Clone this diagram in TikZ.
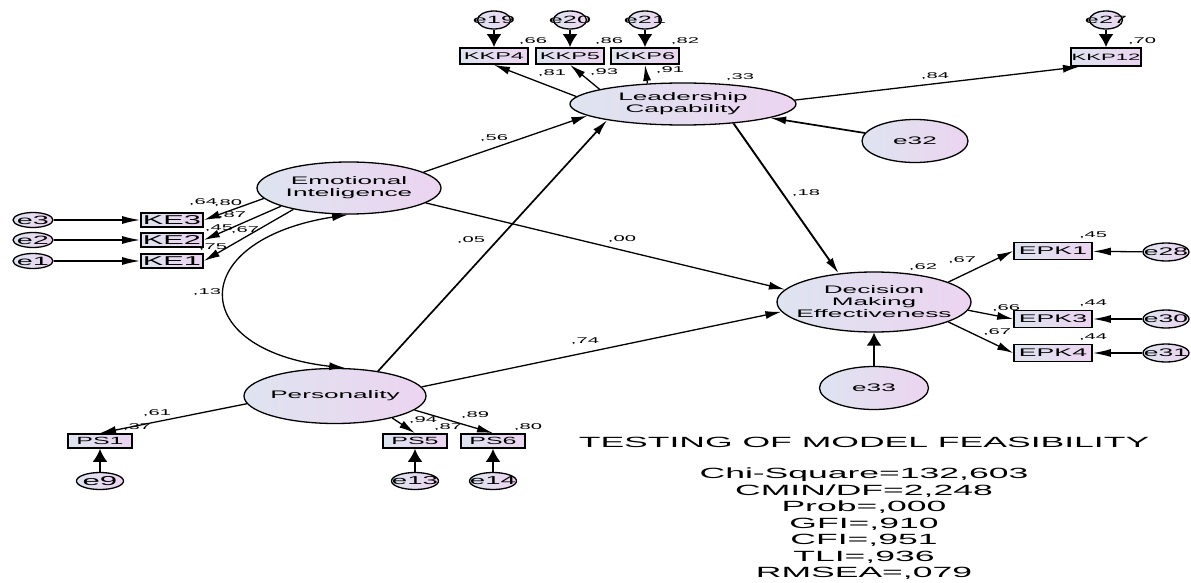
\documentclass[tikz,border=0pt]{standalone}
\usepackage{fontspec}
\setmainfont{Liberation Sans}[FakeStretch=2.4]
\usetikzlibrary{shapes.geometric,arrows.meta}
\definecolor{fillA}{RGB}{222,228,240}
\definecolor{fillB}{RGB}{236,212,240}

\begin{document}
\begin{tikzpicture}[x=1pt,y=-1pt,
        latent/.style={ellipse,draw,line width=1.3pt,left color=fillA,right color=fillB,inner xsep=-30pt,inner ysep=0pt,align=center,font=\fontsize{10.9}{12}\selectfont},
        errnode/.style={ellipse,draw,line width=1.3pt,left color=fillA,right color=fillB,inner xsep=-12pt,inner ysep=0pt},
        obs/.style={rectangle,draw,line width=1.7pt,left color=fillA,right color=fillB,inner sep=0pt},
        kkp/.style={obs,minimum width=68pt,minimum height=16pt,font=\fontsize{9.8}{10}\selectfont},
        kebox/.style={obs,minimum width=62pt,minimum height=14pt,font=\fontsize{12.8}{13}\selectfont},
        psbox/.style={obs,minimum width=64pt,minimum height=14pt,font=\fontsize{10.4}{11}\selectfont},
        epk/.style={obs,minimum width=78pt,minimum height=17pt,font=\fontsize{11.1}{12}\selectfont},
        etop/.style={errnode,minimum width=33pt,minimum height=18pt,font=\fontsize{10.5}{11}\selectfont},
        eleft/.style={errnode,minimum width=40pt,minimum height=15pt,font=\fontsize{12}{13}\selectfont},
        ebot/.style={errnode,minimum width=47pt,minimum height=17pt,font=\fontsize{11.5}{12}\selectfont},
        eright/.style={errnode,minimum width=46pt,minimum height=18pt,font=\fontsize{11}{12}\selectfont},
        coef/.style={inner sep=0pt,font=\fontsize{8.4}{9}\selectfont},
        reg/.style={line width=1.3pt,-{Latex[length=16pt,width=8pt]}},
        errarr/.style={line width=2.2pt,-{Latex[length=13pt,width=15pt]}},
        errside/.style={line width=1.3pt,-{Latex[length=18pt,width=8pt]}},
        cov/.style={line width=1.3pt,{Latex[length=16pt,width=8pt]}-{Latex[length=16pt,width=8pt]}},
        stats/.style={font=\fontsize{14.8}{16.5}\selectfont,align=center,inner sep=0pt}]

        \useasboundingbox (0,0) rectangle (1191,583);

        \node[latent,minimum width=226pt,minimum height=42pt] (LC) at (683,104) {Leadership\\Capability};
        \node[latent,minimum width=184pt,minimum height=52pt] (EI) at (349,188) {Emotional\\Inteligence};
        \node[latent,minimum width=182pt,minimum height=55pt] (PE) at (335,396) {Personality};
        \node[latent,minimum width=194pt,minimum height=60pt] (DME) at (874,302) {Decision\\Making\\Effectiveness};
        \node[errnode,minimum width=106pt,minimum height=43pt,font=\fontsize{10.9}{12}\selectfont] (e32) at (915,141) {e32};
        \node[errnode,minimum width=109pt,minimum height=43pt,font=\fontsize{10.9}{12}\selectfont] (e33) at (874,388) {e33};

        \node[kkp] (KKP4) at (494,56) {KKP4};
        \node[kkp] (KKP5) at (570,56) {KKP5};
        \node[kkp] (KKP6) at (645,56) {KKP6};
        \node[kkp,minimum width=70pt,minimum height=18pt,font=\fontsize{9.2}{10}\selectfont] (KKP12) at (1106,57) {KKP12};
        \node[etop] (e19) at (494,20) {e19};
        \node[etop] (e20) at (570,20) {e20};
        \node[etop] (e21) at (645,20) {e21};
        \node[etop] (e27) at (1106,20) {e27};

        \node[kebox] (KE3) at (172,220) {KE3};
        \node[kebox] (KE2) at (172,240) {KE2};
        \node[kebox] (KE1) at (172,261) {KE1};
        \node[eleft] (e3) at (33,220) {e3};
        \node[eleft] (e2) at (33,240) {e2};
        \node[eleft] (e1) at (33,261) {e1};

        \node[psbox] (PS1) at (100,441) {PS1};
        \node[psbox] (PS5) at (415,441) {PS5};
        \node[psbox] (PS6) at (493,441) {PS6};
        \node[ebot,font=\fontsize{13}{14}\selectfont] (e9) at (100,481) {e9};
        \node[ebot] (e13) at (415,481) {e13};
        \node[ebot] (e14) at (493,481) {e14};

        \node[epk] (EPK1) at (1053,251) {EPK1};
        \node[epk] (EPK3) at (1053,319) {EPK3};
        \node[epk] (EPK4) at (1053,353) {EPK4};
        \node[eright] (e28) at (1166,252) {e28};
        \node[eright] (e30) at (1166,319) {e30};
        \node[eright] (e31) at (1166,353) {e31};

        \draw[errarr] (e19) -- (KKP4);
        \draw[errarr] (e20) -- (KKP5);
        \draw[errarr] (e21) -- (KKP6);
        \draw[errarr] (e27) -- (KKP12);
        \draw[reg] (LC.176) -- (KKP4.south);
        \draw[reg] (LC.170) -- (KKP5.south);
        \draw[reg] (LC.150) -- (KKP6.south);
        \draw[reg] (LC.2) -- (KKP12.-160);

        \draw[reg] (EI.12) -- (LC.187);
        \draw[reg,line width=1.7pt] (PE.30) -- (LC.192);
        \draw[reg] (EI.-11) -- (DME.172);
        \draw[reg] (PE.6) -- (DME.186);
        \draw[reg,line width=1.9pt] (LC.-21) -- (DME.141);
        \draw[reg,line width=1.7pt] (e32) -- (LC);
        \draw[errarr] (e33) -- (DME);

        \draw[reg] (DME.15) -- (EPK1.west);
        \draw[reg] (DME.-5) -- (EPK3.west);
        \draw[reg] (DME.-15) -- (EPK4.west);
        \draw[errside] (e28) -- (EPK1);
        \draw[errside] (e30) -- (EPK3);
        \draw[errside] (e31) -- (EPK4);

        \draw[reg] (EI.187) -- (KE3.east);
        \draw[reg] (EI.195) -- (KE2.east);
        \draw[reg] (EI.201) -- (KE1.east);
        \draw[errside] (e3) -- (KE3);
        \draw[errside] (e2) -- (KE2);
        \draw[errside] (e1) -- (KE1);

        \draw[reg] (PE.185) -- (PS1.north);
        \draw[reg] (PE.-21) -- (PS5.north);
        \draw[reg] (PE.-10) -- (PS6.north);
        \draw[errarr] (e9) -- (PS1);
        \draw[errarr] (e13) -- (PS5);
        \draw[errarr] (e14) -- (PS6);

        \draw[cov] (EI.-92) .. controls (186,240) and (186,350) .. (PE.70);

        \node[coef] (r2KKP4) at (533,41) {,66};
        \node[coef] (r2KKP5) at (609,41) {,86};
        \node[coef] (r2KKP6) at (685,41) {,82};
        \node[coef] (r2KKP12) at (1142,41) {,70};
        \node[coef] (lKKP4) at (552,73) {,81};
        \node[coef] (lKKP5) at (604,72) {,93};
        \node[coef] (lKKP6) at (670,70) {,91};
        \node[coef] (lKKP12) at (935,76) {,84};
        \node[coef] (r2LC) at (740,77) {,33};

        \node[coef] (bEILC) at (494,138) {,56};
        \node[coef] (bPELC) at (471,240) {,05};
        \node[coef] (bEIDME) at (622,239) {,00};
        \node[coef] (bPEDME) at (585,341) {,74};
        \node[coef] (bLCDME) at (806,193) {,18};
        \node[coef] (cEIPE) at (207,292) {,13};

        \node[coef] (r2DME) at (923,267) {,62};
        \node[coef] (lEPK1) at (962,260) {,67};
        \node[coef] (r2EPK1) at (1093,235) {,45};
        \node[coef] (r2EPK3) at (1093,303) {,44};
        \node[coef] (r2EPK4) at (1093,337) {,44};
        \node[coef] (lEPK3) at (1006,308) {,66};
        \node[coef] (lEPK4) at (997,332) {,67};

        \node[coef] (r2KE3) at (203,202) {,64};
        \node[coef] (lKE3) at (228,203) {,80};
        \node[coef] (lKE1) at (232,215) {,87};
        \node[coef] (r2KE2) at (219,228) {,45};
        \node[coef] (lKE2) at (245,230) {,67};
        \node[coef] (r2KE1) at (213,247) {,75};

        \node[coef] (lPS1) at (157,413) {,61};
        \node[coef] (r2PS1) at (137,427) {,37};
        \node[coef] (lPS5) at (423,420) {,94};
        \node[coef] (r2PS5) at (448,427) {,87};
        \node[coef] (lPS6) at (475,415) {,89};
        \node[coef] (r2PS6) at (528,427) {,80};

        \node[stats] (title) at (864,442) {TESTING OF MODEL FEASIBILITY};
        \node[stats] (fit) at (864,524) {Chi-Square=132,603\\CMIN/DF=2,248\\Prob=,000\\GFI=,910\\CFI=,951\\TLI=,936\\RMSEA=,079};
    \end{tikzpicture}
\end{document}
